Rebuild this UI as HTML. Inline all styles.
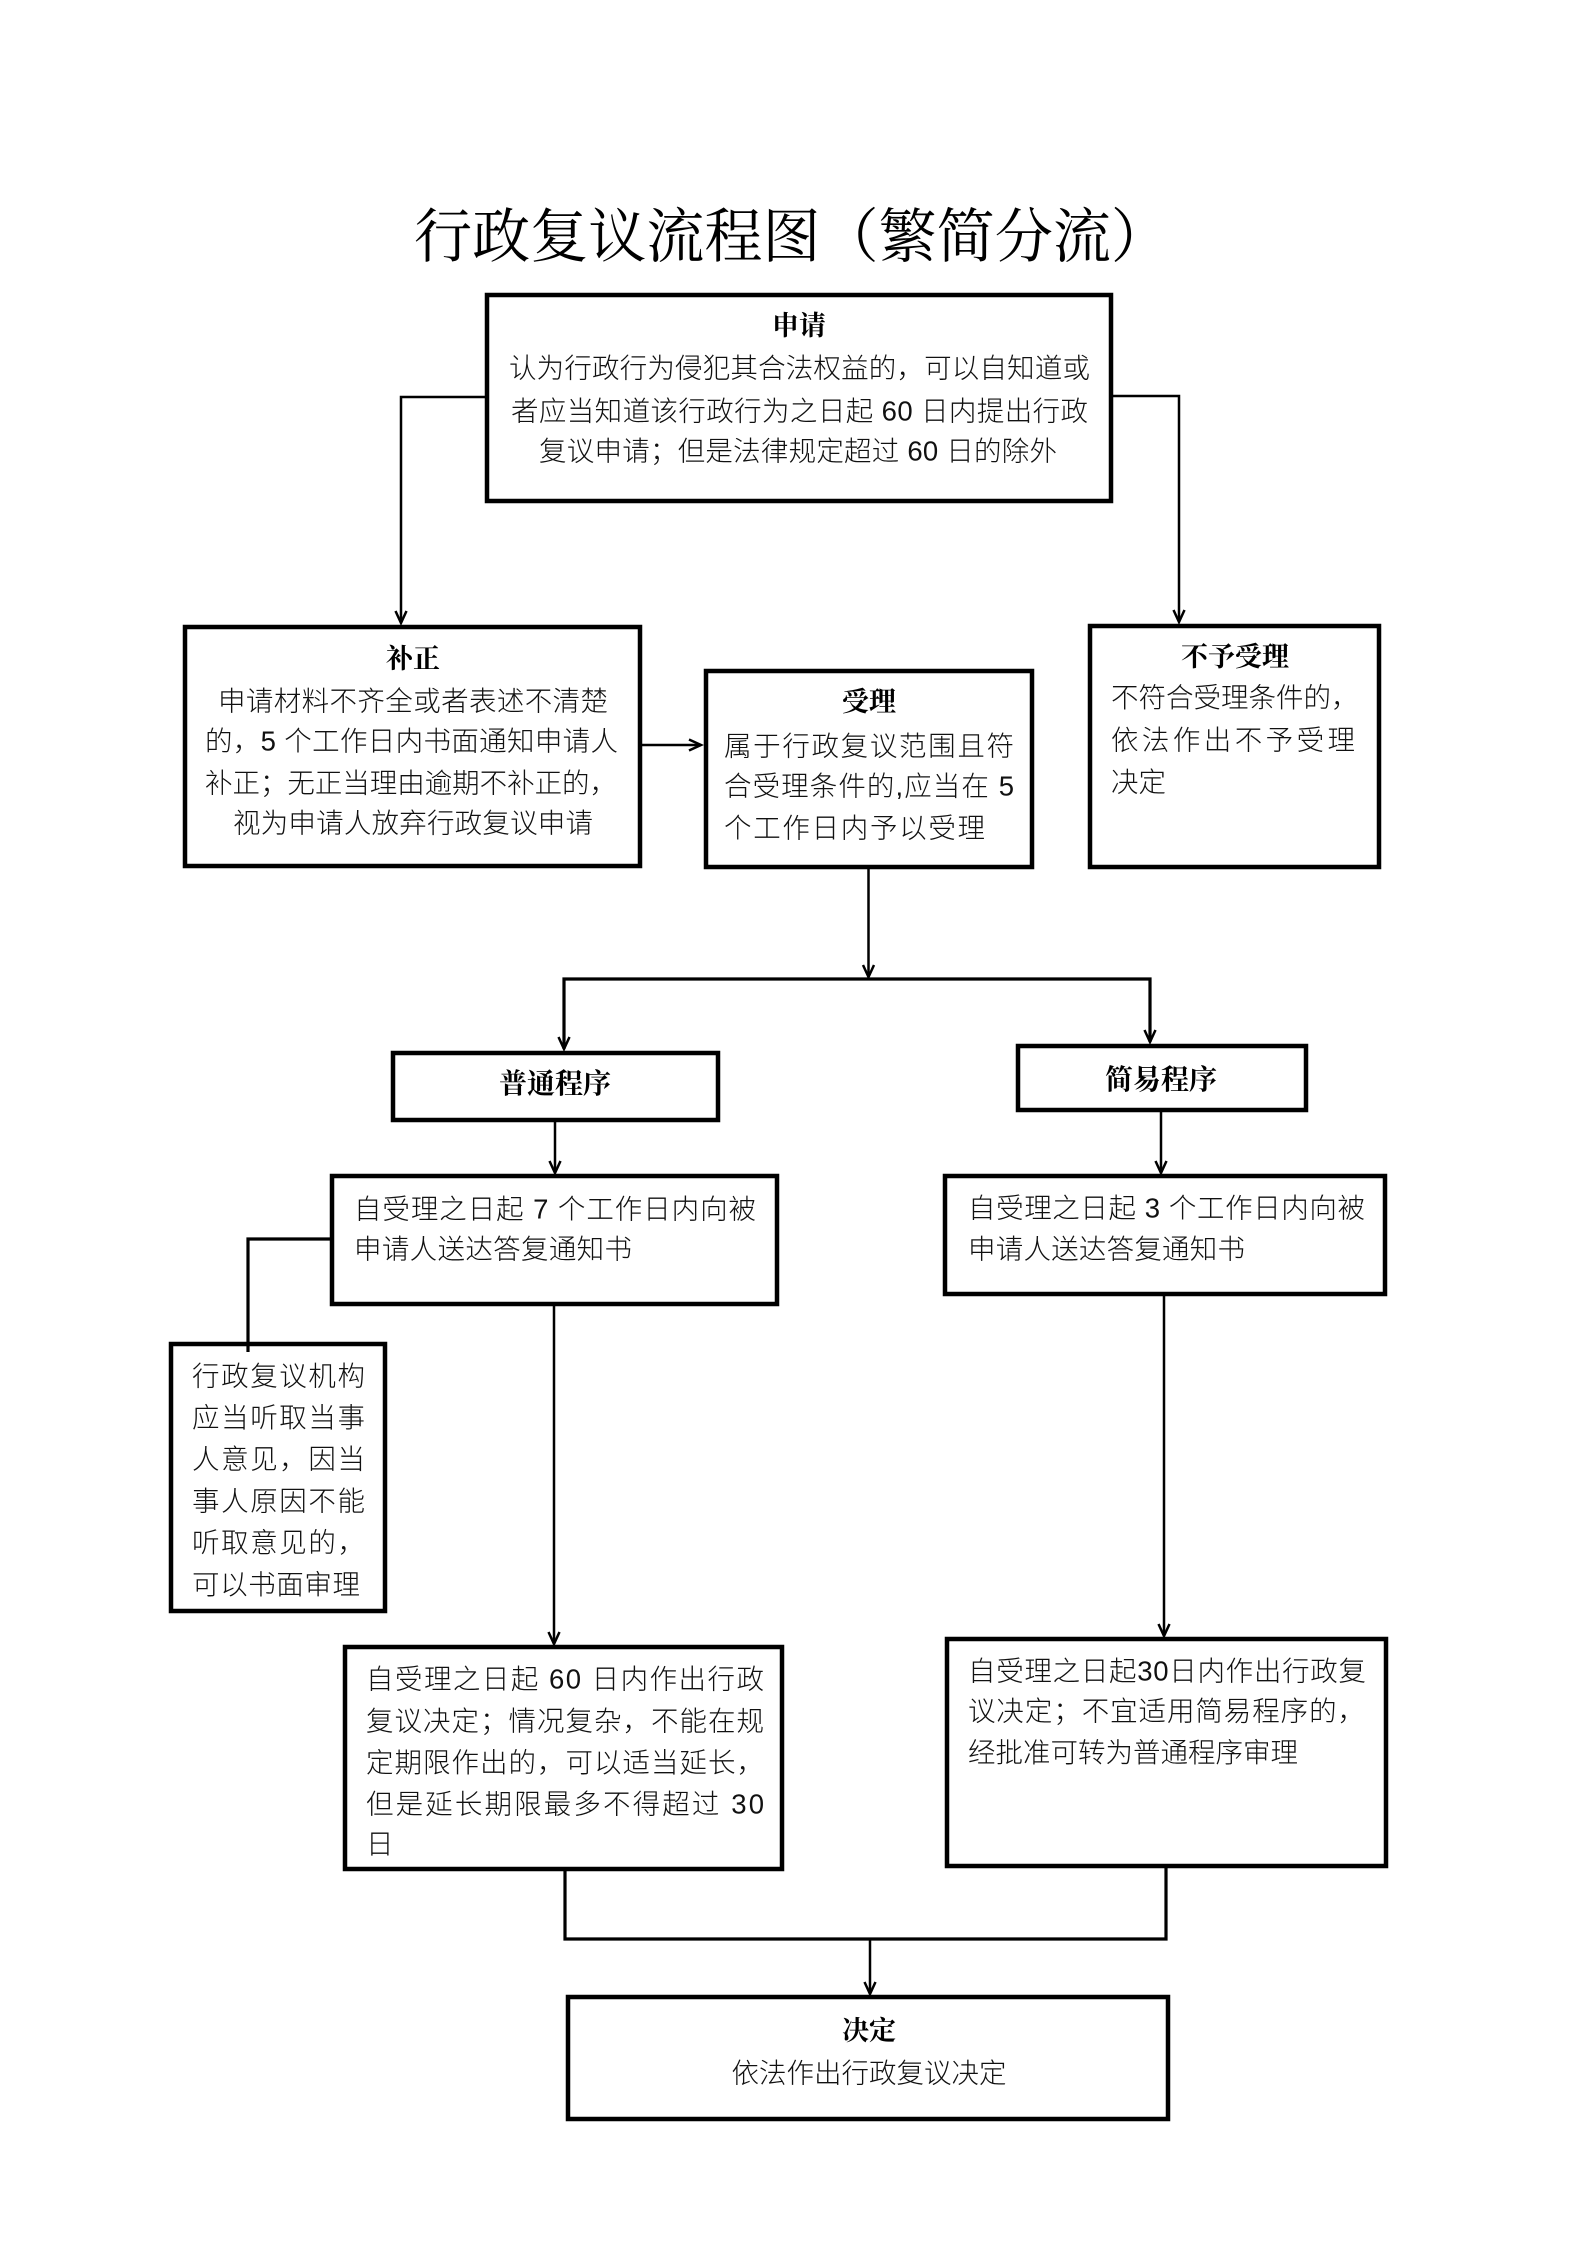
<!DOCTYPE html>
<html lang="zh">
<head>
<meta charset="utf-8">
<title>行政复议流程图（繁简分流）</title>
<style>
html,body{margin:0;padding:0;background:#fff;}
svg{display:block;}
.t{font-family:"Liberation Sans","Noto Sans CJK SC",sans-serif;font-size:27.5px;font-weight:300;fill:#111;}
.h{font-family:"Liberation Serif","Noto Serif CJK SC",serif;font-size:27px;font-weight:700;fill:#000;}
.h2{font-family:"Liberation Serif","Noto Serif CJK SC",serif;font-size:28px;font-weight:700;fill:#000;}
.ti{font-family:"Liberation Serif","Noto Serif CJK SC",serif;font-size:59px;font-weight:400;fill:#000;}
.b{fill:none;stroke:#000;stroke-width:4.5;}
.c{fill:none;stroke:#000;stroke-width:2.5;}
.c3{fill:none;stroke:#000;stroke-width:3.2;}
.a{fill:none;stroke:#000;stroke-width:2.5;stroke-linejoin:miter;}
</style>
</head>
<body>
<svg width="1587" height="2245" viewBox="0 0 1587 2245" xmlns="http://www.w3.org/2000/svg">
<rect x="0" y="0" width="1587" height="2245" fill="#fff"/>

<!-- Title -->
<text class="ti" x="414" y="257" textLength="755" lengthAdjust="spacingAndGlyphs">行政复议流程图（繁简分流）</text>

<!-- Boxes -->
<rect class="b" x="487" y="295" width="624" height="206"/>
<rect class="b" x="185" y="627" width="455" height="239"/>
<rect class="b" x="706" y="671" width="326" height="196"/>
<rect class="b" x="1090" y="626" width="289" height="241"/>
<rect class="b" x="393" y="1053" width="325" height="67"/>
<rect class="b" x="1018" y="1046" width="288" height="64"/>
<rect class="b" x="332" y="1176" width="445" height="128"/>
<rect class="b" x="945" y="1176" width="440" height="118"/>
<rect class="b" x="171" y="1344" width="214" height="267"/>
<rect class="b" x="345" y="1647" width="437" height="222"/>
<rect class="b" x="947" y="1639" width="439" height="227"/>
<rect class="b" x="568" y="1997" width="600" height="122"/>

<!-- Connectors -->
<polyline class="c" points="485,397 401,397 401,623"/>
<polyline class="a" points="395.5,611 401,623 406.5,611"/>

<polyline class="c" points="1113,396 1179,396 1179,622"/>
<polyline class="a" points="1173.5,610 1179,622 1184.5,610"/>

<line class="c" x1="642" y1="745" x2="701" y2="745"/>
<polyline class="a" points="689,739.5 701,745 689,750.5"/>

<line class="c" x1="868.5" y1="869" x2="868.5" y2="977"/>
<polyline class="a" points="863,965 868.5,977 874,965"/>

<polyline class="c3" points="564,1049 564,979 1150,979 1150,1042"/>
<polyline class="a" points="558.5,1037 564,1049 569.5,1037"/>
<polyline class="a" points="1144.5,1030 1150,1042 1155.5,1030"/>

<line class="c" x1="555" y1="1122" x2="555" y2="1173"/>
<polyline class="a" points="549.5,1161 555,1173 560.5,1161"/>

<line class="c" x1="1161" y1="1112" x2="1161" y2="1173"/>
<polyline class="a" points="1155.5,1161 1161,1173 1166.5,1161"/>

<polyline class="c3" points="330,1239 248,1239 248,1352"/>

<line class="c" x1="554" y1="1306" x2="554" y2="1644"/>
<polyline class="a" points="548.5,1632 554,1644 559.5,1632"/>

<line class="c" x1="1164" y1="1296" x2="1164" y2="1636"/>
<polyline class="a" points="1158.5,1624 1164,1636 1169.5,1624"/>

<polyline class="c3" points="565,1871 565,1939 1166,1939 1166,1868"/>

<line class="c" x1="870" y1="1939" x2="870" y2="1994"/>
<polyline class="a" points="864.5,1982 870,1994 875.5,1982"/>

<!-- 申请 -->
<text class="h" x="799" y="335" text-anchor="middle">申请</text>
<text class="t" x="509" y="377.5" textLength="581">认为行政行为侵犯其合法权益的，可以自知道或</text>
<text class="t" x="511" y="420.5" textLength="577">者应当知道该行政行为之日起 60 日内提出行政</text>
<text class="t" x="539" y="460.5" textLength="518">复议申请；但是法律规定超过 60 日的除外</text>

<!-- 补正 -->
<text class="h" x="413" y="668" text-anchor="middle">补正</text>
<text class="t" x="218" y="710.5" textLength="390">申请材料不齐全或者表述不清楚</text>
<text class="t" x="205" y="750.5" textLength="413">的，5 个工作日内书面通知申请人</text>
<text class="t" x="205" y="792.5" textLength="412">补正；无正当理由逾期不补正的，</text>
<text class="t" x="233" y="832.5" textLength="360">视为申请人放弃行政复议申请</text>

<!-- 受理 -->
<text class="h" x="869" y="711" text-anchor="middle">受理</text>
<text class="t" x="724" y="755.5" textLength="290">属于行政复议范围且符</text>
<text class="t" x="724" y="795.5" textLength="290">合受理条件的,应当在 5</text>
<text class="t" x="724" y="837.5" textLength="261">个工作日内予以受理</text>

<!-- 不予受理 -->
<text class="h" x="1235" y="666" text-anchor="middle">不予受理</text>
<text class="t" x="1111" y="707">不符合受理条件的，</text>
<text class="t" x="1111" y="749.5" textLength="244">依法作出不予受理</text>
<text class="t" x="1111" y="791.5">决定</text>

<!-- 普通程序 / 简易程序 -->
<text class="h2" x="555" y="1093" text-anchor="middle">普通程序</text>
<text class="h2" x="1161" y="1089" text-anchor="middle">简易程序</text>

<!-- 普通 step 1 -->
<text class="t" x="354" y="1218.5" textLength="402">自受理之日起 7 个工作日内向被</text>
<text class="t" x="354" y="1258.5" textLength="278">申请人送达答复通知书</text>

<!-- 简易 step 1 -->
<text class="t" x="968" y="1217.5" textLength="397">自受理之日起 3 个工作日内向被</text>
<text class="t" x="968" y="1258.5" textLength="277">申请人送达答复通知书</text>

<!-- side box -->
<text class="t" x="192" y="1385.5" textLength="173">行政复议机构</text>
<text class="t" x="192" y="1427" textLength="173">应当听取当事</text>
<text class="t" x="192" y="1468.5" textLength="173">人意见，因当</text>
<text class="t" x="192" y="1510.5" textLength="173">事人原因不能</text>
<text class="t" x="192" y="1552" textLength="173">听取意见的，</text>
<text class="t" x="192" y="1594" textLength="168">可以书面审理</text>

<!-- 60 box -->
<text class="t" x="366" y="1688.5" textLength="398">自受理之日起 60 日内作出行政</text>
<text class="t" x="366" y="1730.5" textLength="398">复议决定；情况复杂，不能在规</text>
<text class="t" x="366" y="1772" textLength="398">定期限作出的，可以适当延长，</text>
<text class="t" x="366" y="1813.5" textLength="398">但是延长期限最多不得超过 30</text>
<text class="t" x="366" y="1853.5">日</text>

<!-- 30 box -->
<text class="t" x="968" y="1680.5" textLength="398">自受理之日起30日内作出行政复</text>
<text class="t" x="968" y="1720.5" textLength="397">议决定；不宜适用简易程序的，</text>
<text class="t" x="968" y="1762">经批准可转为普通程序审理</text>

<!-- 决定 -->
<text class="h" x="869" y="2040" text-anchor="middle">决定</text>
<text class="t" x="869" y="2082.5" text-anchor="middle">依法作出行政复议决定</text>
</svg>
</body>
</html>
